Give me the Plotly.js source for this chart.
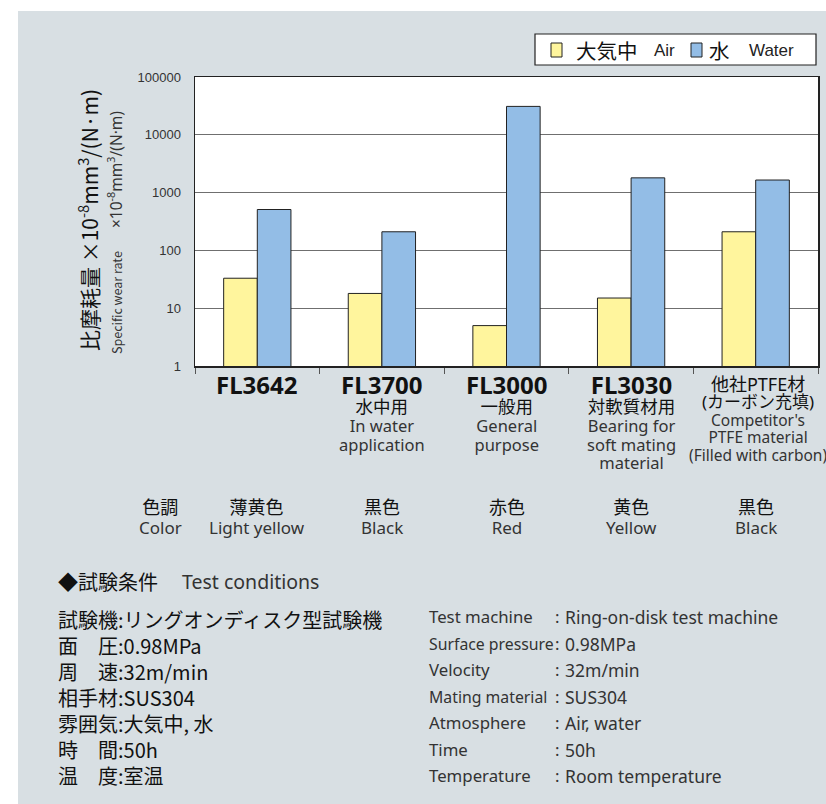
<!DOCTYPE html>
<html>
<head>
<meta charset="utf-8">
<script src="https://cdn.plot.ly/plotly-3.0.1.min.js"></script>
<style>html,body{margin:0;padding:0;background:#fff;}#chart{width:826px;height:804px;}</style>
</head>
<body>
<div id="chart"></div>
<script>
// ---- data ----
const categories = ['FL3642', 'FL3700', 'FL3000', 'FL3030', '他社PTFE材'];
const airValues = [33, 18, 5, 15, 210];
const waterValues = [510, 210, 31000, 1800, 1650];
const seriesJa = ['大気中', '水'];
const seriesEn = ['Air', 'Water'];
const seriesColors = ['#fff59d', '#93bde6'];
const yTickVals = [1, 10, 100, 1000, 10000, 100000];
const yTickText = ['1', '10', '100', '1000', '10000', '100000'];
const catJa = ['', '水中用', '一般用', '対軟質材用', '(カーボン充填)'];
const catEn = [[], ['In water', 'application'], ['General', 'purpose'], ['Bearing for', 'soft mating', 'material'], ["Competitor's", 'PTFE material', '(Filled with carbon)']];
const colorJa = ['薄黄色', '黒色', '赤色', '黄色', '黒色'];
const colorEn = ['Light yellow', 'Black', 'Red', 'Yellow', 'Black'];
const condJa = ['試験機:リングオンディスク型試験機', '面　圧:0.98MPa', '周　速:32m/min', '相手材:SUS304', '雰囲気:大気中, 水', '時　間:50h', '温　度:室温'];
const condEnLabel = ['Test machine', 'Surface pressure', 'Velocity', 'Mating material', 'Atmosphere', 'Time', 'Temperature'];
const condEnValue = ['Ring-on-disk test machine', '0.98MPa', '32m/min', 'SUS304', 'Air, water', '50h', 'Room temperature'];

// ---- geometry helpers (pixels -> paper) ----
const W = 826, H = 804;
const PL = 195, PR = 818, PT = 77, PB = 366;
const px = x => (x - PL) / (PR - PL);
const py = y => (PB - y) / (PB - PT);

const JA = '"Noto Sans CJK JP", "Noto Sans", sans-serif';
const MIX = '"Noto Sans", "Noto Sans CJK JP", sans-serif';
const ARIAL = '"Liberation Sans", Arial, sans-serif';

const annotations = [];
function addText(text, x, y, size, opts) {
  opts = opts || {};
  annotations.push(Object.assign({
    text: text, xref: 'paper', yref: 'paper', x: px(x), y: py(y),
    xanchor: 'center', yanchor: 'middle', showarrow: false, align: 'center',
    font: {family: opts.family || MIX, size: size, color: opts.color || '#222'}
  }, opts.extra || {}));
}
const sp = (t, s, extra) => '<span style="font-size:' + s + 'px' + (extra || '') + '">' + t + '</span>';
const shapes = [
  {type: 'rect', xref: 'paper', yref: 'paper', x0: px(0), x1: px(W), y0: py(11), y1: py(0), fillcolor: '#ffffff', line: {width: 0}, layer: 'below'},
  {type: 'rect', xref: 'paper', yref: 'paper', x0: px(0), x1: px(18), y0: py(H), y1: py(0), fillcolor: '#ffffff', line: {width: 0}, layer: 'below'}
];
function addRect(x0, x1, y0, y1, fill, lw) {
  shapes.push({type: 'rect', xref: 'paper', yref: 'paper', x0: px(x0), x1: px(x1), y0: py(y1), y1: py(y0),
               fillcolor: fill, line: {color: '#222', width: lw}});
}

// y-axis title (two rotated lines)
addText('比摩耗量 ×10<sup>-8</sup>mm<sup>3</sup>/(N·m)', 88, 220, 21, {family: JA, extra: {textangle: -90}, color: '#111'});
addText('Specific wear rate', 116, 303, 12.5, {family: JA, extra: {textangle: -90}, color: '#333'});
addText('×10<sup>-8</sup>mm<sup>3</sup>/(N·m)', 115, 170, 15.5, {family: MIX, extra: {textangle: -90}, color: '#333'});

// legend (box, swatches and labels)
addRect(535, 816, 34, 65, '#ffffff', 1.2);
const legSwatchX = [551, 691];
const legJaX = [574, 707];
const legEnX = [652, 747];
seriesJa.forEach((s, k) => {
  addRect(legSwatchX[k], legSwatchX[k] + 11, 43, 57, seriesColors[k], 1);
  addText(s, legJaX[k], 50, 20.5, {family: JA, color: '#111', extra: {xanchor: 'left'}});
  addText(seriesEn[k], legEnX[k], 51, 17, {family: ARIAL, color: '#222', extra: {xanchor: 'left'}});
});

// category labels (one block per category)
const catCenters = categories.map((c, i) => PL + (PR - PL) * (i + 0.5) / categories.length);
categories.forEach((c, i) => {
  const cx = catCenters[i];
  let lines, base, top;
  if (i < 4) {
    lines = ['<b>' + sp(c, 24) + '</b>'];
    if (catJa[i]) lines.push(sp(catJa[i], 17.5));
    catEn[i].forEach(t => lines.push(sp(t, 16.5, ';fill:#333')));
    base = 14.5; top = 366;
  } else {
    lines = [sp(c, 18), sp(catJa[i], 17)].concat(catEn[i].map(t => sp(t, 15.5, ';fill:#333')));
    base = 13.4; top = 370;
  }
  addText(lines.join('<br>'), i < 4 ? cx : cx + 2, top, base, {color: '#111', extra: {yanchor: 'top'}});
  addText(sp(colorJa[i], 18) + '<br>' + sp(colorEn[i], 17, ';fill:#333'), cx, 492.5, 15.7, {color: '#111', extra: {yanchor: 'top'}});
});
addText(sp('色調', 18) + '<br>' + sp('Color', 17, ';fill:#333'), 160, 492.5, 15.7, {color: '#111', extra: {yanchor: 'top'}});

// test conditions
addText('◆試験条件', 56, 581, 20, {family: JA, color: '#111', extra: {xanchor: 'left'}});
addText('Test conditions', 180, 581, 19.5, {color: '#333', extra: {xanchor: 'left'}});
addText(condJa.join('<br>'), 56, 603, 20, {family: JA, color: '#111', extra: {xanchor: 'left', yanchor: 'top', align: 'left'}});
addText(condEnLabel.map(t => sp(t, t.length > 14 ? 15.8 : 16.8)).join('<br>'), 427, 602.5, 20.4, {color: '#333', extra: {xanchor: 'left', yanchor: 'top', align: 'left'}});
addText(condEnValue.map(t => sp(':', 16.8)).join('<br>'), 553, 602.5, 20.4, {color: '#333', extra: {xanchor: 'left', yanchor: 'top', align: 'left'}});
addText(condEnValue.map(t => sp(t, 17.5)).join('<br>'), 563, 602.5, 20.4, {color: '#333', extra: {xanchor: 'left', yanchor: 'top', align: 'left'}});

const traces = [
  {type: 'bar', name: seriesJa[0] + ' ' + seriesEn[0], x: categories, y: airValues,
   marker: {color: seriesColors[0], line: {color: '#222', width: 1}}, hoverinfo: 'y'},
  {type: 'bar', name: seriesJa[1] + ' ' + seriesEn[1], x: categories, y: waterValues,
   marker: {color: seriesColors[1], line: {color: '#222', width: 1}}, hoverinfo: 'y'}
];

const layout = {
  width: W, height: H,
  margin: {l: PL, r: W - PR, t: PT, b: H - PB, pad: 0},
  paper_bgcolor: '#d8dfe3', plot_bgcolor: '#ffffff',
  barmode: 'group', bargap: 0.46, bargroupgap: 0,
  showlegend: false,
  xaxis: {type: 'category', showticklabels: false, ticks: 'outside', tickson: 'boundaries', ticklen: 6,
          tickcolor: '#555', showline: true, linecolor: '#222', linewidth: 1.5, mirror: true, showgrid: false, fixedrange: true},
  yaxis: {type: 'log', range: [0, 5], tickvals: yTickVals, ticktext: yTickText, ticks: '',
          ticklabelstandoff: 10,
          tickfont: {family: ARIAL, size: 13, color: '#333'},
          showgrid: true, gridcolor: '#6f6f6f', gridwidth: 1.3, zeroline: false,
          showline: true, linecolor: '#222', linewidth: 1.5, mirror: true, fixedrange: true},
  annotations: annotations,
  shapes: shapes
};

Plotly.newPlot('chart', traces, layout, {displayModeBar: false, staticPlot: true});
</script>
</body>
</html>
